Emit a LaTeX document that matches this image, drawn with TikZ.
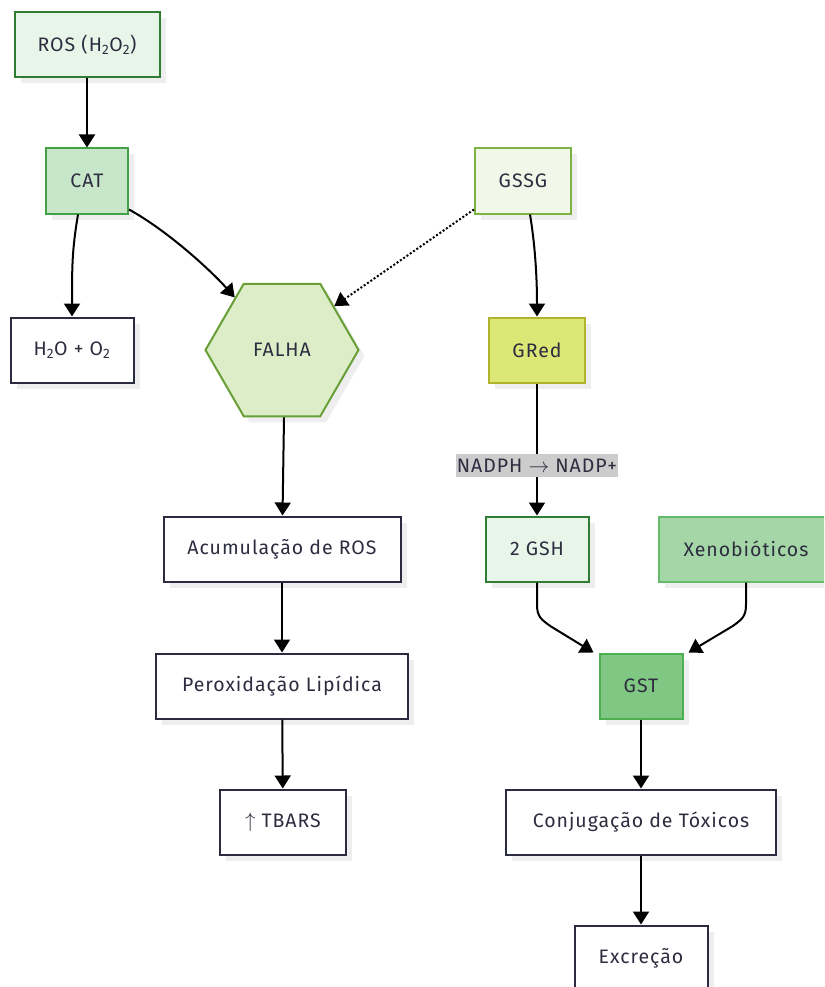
\documentclass[tikz,border=0pt]{standalone}
\usepackage{fontspec}
\setmainfont{Fira Sans}[LetterSpace=5]
\usetikzlibrary{arrows.meta,shapes.geometric,shadows}
\definecolor{txt}{HTML}{2D2D40}
\definecolor{ink}{HTML}{2B2B40}
\definecolor{shade}{HTML}{EEEEEE}
\definecolor{rosline}{HTML}{2E7D32}
\definecolor{rosfill}{HTML}{E8F5E9}
\definecolor{catline}{HTML}{43A047}
\definecolor{catfill}{HTML}{C8E6C9}
\definecolor{gssgline}{HTML}{7CB342}
\definecolor{gssgfill}{HTML}{F1F8E9}
\definecolor{falhaline}{HTML}{689F38}
\definecolor{falhafill}{HTML}{DCEDC8}
\definecolor{gredline}{HTML}{AFB42B}
\definecolor{gredfill}{HTML}{DCE775}
\definecolor{xenoline}{HTML}{66BB6A}
\definecolor{xenofill}{HTML}{A5D6A7}
\definecolor{gstline}{HTML}{4CAF50}
\definecolor{gstfill}{HTML}{81C784}
\begin{document}
\begin{tikzpicture}[x=1pt, y=-1pt, font=\fontsize{19.5}{22}\selectfont, text=txt,
  base/.style={line width=2pt, minimum height=65pt, inner sep=0pt,
    drop shadow={shadow xshift=6pt, shadow yshift=-6pt, fill=shade, opacity=1}},
  box/.style={base, draw=ink, fill=white},
  gbox/.style={base, draw=#1line, fill=#1fill},
  arr/.style={line width=2pt, -{Triangle[width=16pt,length=13pt]}},
  lbl/.style={fill=black!20, inner xsep=1pt, inner ysep=5pt}]
  \clip (0,0) rectangle (824,987);
  % Catalase
  \node[gbox=ros, minimum width=145pt] (ros) at (87,45) {ROS (H\textsubscript{2}O\textsubscript{2})};
  \node[gbox=cat, minimum width=82pt] (cat) at (87,181) {CAT};
  \node[box, minimum width=123pt] (agua) at (72,350) {H\textsubscript{2}O + O\textsubscript{2}};
  \node[gbox=falha, regular polygon, regular polygon sides=6,
    minimum size=153pt] (falha) at (282,350) {FALHA};
  % Dano lipidico
  \node[box, minimum width=237pt] (acum) at (282,549) {Acumulação de ROS};
  \node[box, minimum width=252pt] (perox) at (282,686) {Peroxidação Lipídica};
  \node[box, minimum width=126pt] (tbars) at (283,822) {$\uparrow$ TBARS};
  % Glutationa
  \node[gbox=gssg, minimum width=96pt] (gssg) at (523,181) {GSSG};
  \node[gbox=gred, minimum width=96pt] (gred) at (537,350) {GRed};
  \node[gbox=ros, minimum width=103pt] (gsh) at (537,549) {2 GSH};
  \node[gbox=xeno, minimum width=174pt] (xeno) at (746,549) {Xenobióticos};
  \node[gbox=gst, minimum width=83pt] (gst) at (641,686) {GST};
  \node[box, minimum width=270pt] (conj) at (641,822) {Conjugação de Tóxicos};
  \node[box, minimum width=133pt] (excr) at (641,958) {Excreção};
  % Setas
  \draw[arr] (ros) -- (cat);
  \draw[arr] ([xshift=-9pt]cat.south) .. controls +(-6,36) and +(0,-50) .. (agua.north);
  \draw[arr] ([yshift=5pt]cat.south east) .. controls +(40,22) and +(-22,-25) .. (falha.132);
  \draw[arr, dash pattern=on 2pt off 2pt] ([yshift=5pt]gssg.south west) -- (falha.40);
  \draw[arr] ([xshift=7pt]gssg.south) .. controls +(5,30) and +(0,-40) .. (gred.north);
  \draw[arr] (gred) -- node[lbl, pos=0.62] {NADPH $\rightarrow$ NADP+} (gsh);
  \draw[arr] (gsh.south) -- ++(0,22) .. controls +(0,12) and +(-10,-7) .. ++(14,22) -- ([xshift=-5pt]gst.north west);
  \draw[arr] (xeno.south) -- ++(0,22) .. controls +(0,12) and +(10,-7) .. ++(-14,22) -- ([xshift=5pt]gst.north east);
  \draw[arr] ([xshift=2pt]falha.south) -- (acum);
  \foreach \a/\b in {acum/perox, perox/tbars, gst/conj, conj/excr}
    \draw[arr] (\a) -- (\b);
\end{tikzpicture}
\end{document}
